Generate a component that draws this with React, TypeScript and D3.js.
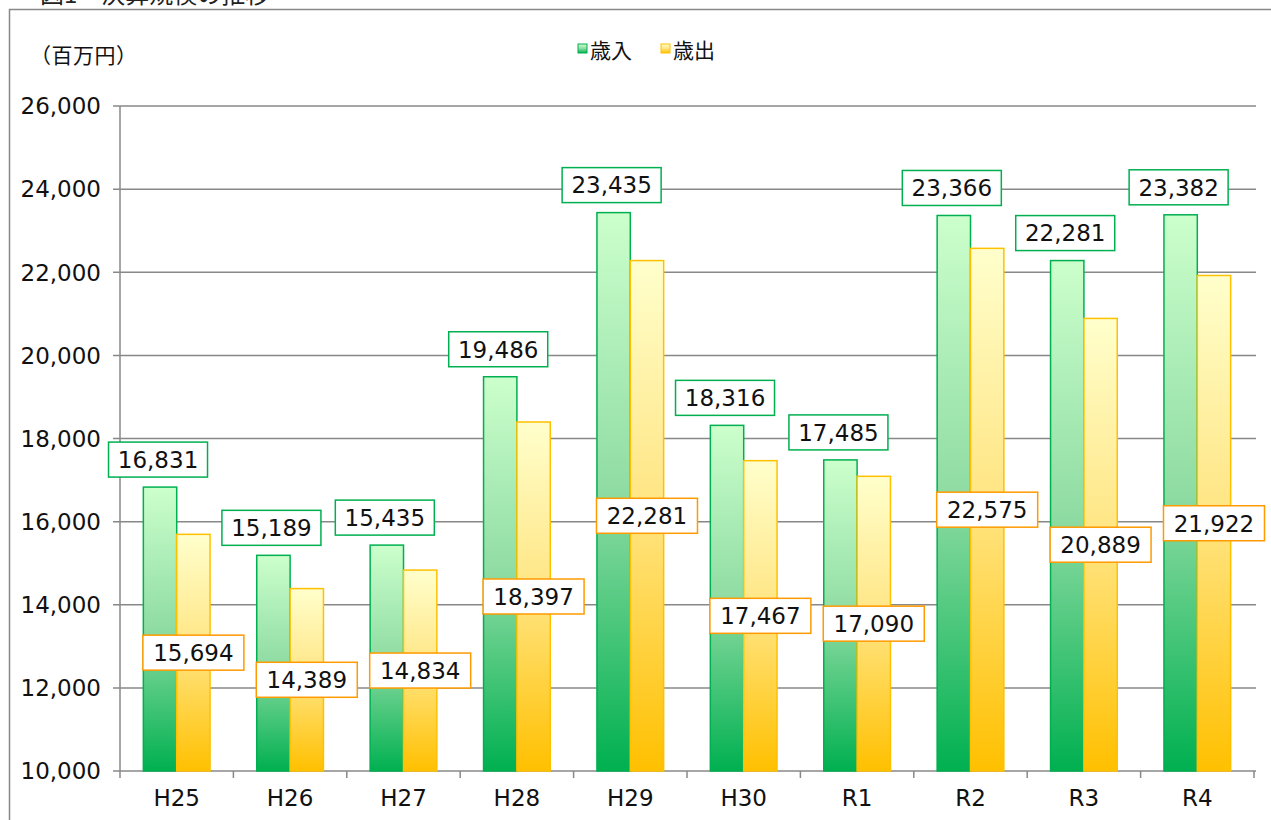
import * as d3 from 'd3';

const CATEGORIES = ['H25', 'H26', 'H27', 'H28', 'H29', 'H30', 'R1', 'R2', 'R3', 'R4'];
const REVENUE = [16831, 15189, 15435, 19486, 23435, 18316, 17485, 23366, 22281, 23382];
const EXPENSE = [15694, 14389, 14834, 18397, 22281, 17467, 17090, 22575, 20889, 21922];
const SERIES = ['歳入', '歳出'];
const Y_TICKS = [10000, 12000, 14000, 16000, 18000, 20000, 22000, 24000, 26000];

const VW = 1271;
const VH = 820;
const LEFT = 120;
const RIGHT = 1254;
const TOP = 106;
const BOTTOM = 771;

const AXIS = '#888888';
const GREEN = '#00b050';
const YELLOW = '#ffc000';
const ORANGE = '#ff9a00';
const FONT = "'DejaVu Sans', 'Noto Sans CJK JP', sans-serif";
const JP = "'Noto Sans CJK JP', sans-serif";

const fmt = d3.format(',');

const x0 = d3.scaleBand<string>().domain(CATEGORIES).range([LEFT, RIGHT]).padding(0);
const x1 = d3.scaleBand<string>().domain(SERIES).range([0, x0.bandwidth()]).paddingInner(0).paddingOuter(0.7);
const y = d3.scaleLinear().domain([10000, 26000]).range([BOTTOM, TOP]);

const bw = x1.bandwidth();
const BOX_W = 99;
const BOX_H = 35;

export default function App() {
  return (
    <svg width={VW} height={VH} viewBox={`0 0 ${VW} ${VH}`}
      style={{ position: 'absolute', left: 0, top: 0, background: '#fff' }}>
      <defs>
        <linearGradient id="gGreen" x1="0" y1="0" x2="0" y2="1">
          <stop offset="0" stopColor="#ccffcc" />
          <stop offset="0.5" stopColor="#8fdca3" />
          <stop offset="1" stopColor="#00b050" />
        </linearGradient>
        <linearGradient id="gYellow" x1="0" y1="0" x2="0" y2="1">
          <stop offset="0" stopColor="#ffffcc" />
          <stop offset="0.5" stopColor="#ffe480" />
          <stop offset="1" stopColor="#ffc000" />
        </linearGradient>
      </defs>

      {/* title, cut off at the top as in the source image */}
      <text x={40} y={3} fontSize={24} fontFamily={JP} fill="#222">図1　決算規模の推移</text>

      {/* outer frame */}
      <rect x={9.5} y={9.5} width={VW + 20} height={VH + 20} fill="none" stroke={AXIS} strokeWidth={1.5} />

      <text x={30} y={63} fontSize={21} fontFamily={JP} fill="#111" letterSpacing="0.5">（百万円）</text>

      {/* legend */}
      {SERIES.map((s, i) => {
        const lx = 578 + i * 83;
        return (
          <g key={s}>
            <rect x={lx} y={44} width={9} height={9} fill={i === 0 ? 'url(#gGreen)' : 'url(#gYellow)'}
              stroke={i === 0 ? GREEN : YELLOW} strokeWidth={1} />
            <text x={lx + 12} y={58} fontSize={21} fontFamily={JP} fill="#111">{s}</text>
          </g>
        );
      })}

      {/* gridlines and y labels */}
      {Y_TICKS.map(t => (
        <g key={t}>
          <line x1={LEFT - 7} x2={RIGHT + 2} y1={y(t)} y2={y(t)} stroke={AXIS} strokeWidth={1.5} />
          <text x={101} y={y(t)} dy="0.36em" textAnchor="end" fontSize={23} fontFamily={FONT} fill="#111">
            {fmt(t)}
          </text>
        </g>
      ))}

      <line x1={LEFT} x2={LEFT} y1={TOP} y2={BOTTOM} stroke={AXIS} strokeWidth={1.5} />

      {/* x ticks */}
      {[...CATEGORIES.map(c => x0(c)!), RIGHT].map((xv, i) => (
        <line key={`xt${i}`} x1={xv} x2={xv} y1={BOTTOM} y2={BOTTOM + 7} stroke={AXIS} strokeWidth={1.5} />
      ))}
      {CATEGORIES.map(c => (
        <text key={`xl${c}`} x={x0(c)! + x0.bandwidth() / 2} y={806} textAnchor="middle"
          fontSize={23} fontFamily={FONT} fill="#111">{c}</text>
      ))}

      {/* bars */}
      {CATEGORIES.map((c, i) => {
        const gx = x0(c)! + x1(SERIES[0])!;
        const yx = x0(c)! + x1(SERIES[1])!;
        return (
          <g key={`b${c}`}>
            <rect x={gx} y={y(REVENUE[i])} width={bw} height={BOTTOM - y(REVENUE[i])}
              fill="url(#gGreen)" stroke={GREEN} strokeWidth={1.5} />
            <rect x={yx} y={y(EXPENSE[i])} width={bw} height={BOTTOM - y(EXPENSE[i])}
              fill="url(#gYellow)" stroke={YELLOW} strokeWidth={1.5} />
          </g>
        );
      })}

      {/* value labels */}
      {CATEGORIES.map((c, i) => {
        const gcx = x0(c)! + x1(SERIES[0])! + bw / 2 - 2;
        const gBottom = y(REVENUE[i]) - 10;
        const ycx = x0(c)! + x1(SERIES[1])! + bw / 2;
        const ycy = (y(EXPENSE[i]) + BOTTOM) / 2;
        return (
          <g key={`l${c}`}>
            <rect x={gcx - BOX_W / 2} y={gBottom - BOX_H} width={BOX_W} height={BOX_H}
              fill="#fff" stroke={GREEN} strokeWidth={1.5} />
            <text x={gcx} y={gBottom - BOX_H / 2} dy="0.36em" textAnchor="middle"
              fontSize={23} fontFamily={FONT} fill="#111">{fmt(REVENUE[i])}</text>
            <rect x={ycx - (BOX_W + 2) / 2} y={ycy - BOX_H / 2} width={BOX_W + 2} height={BOX_H}
              fill="#fff" stroke={ORANGE} strokeWidth={1.5} />
            <text x={ycx} y={ycy} dy="0.36em" textAnchor="middle"
              fontSize={23} fontFamily={FONT} fill="#111">{fmt(EXPENSE[i])}</text>
          </g>
        );
      })}
    </svg>
  );
}
